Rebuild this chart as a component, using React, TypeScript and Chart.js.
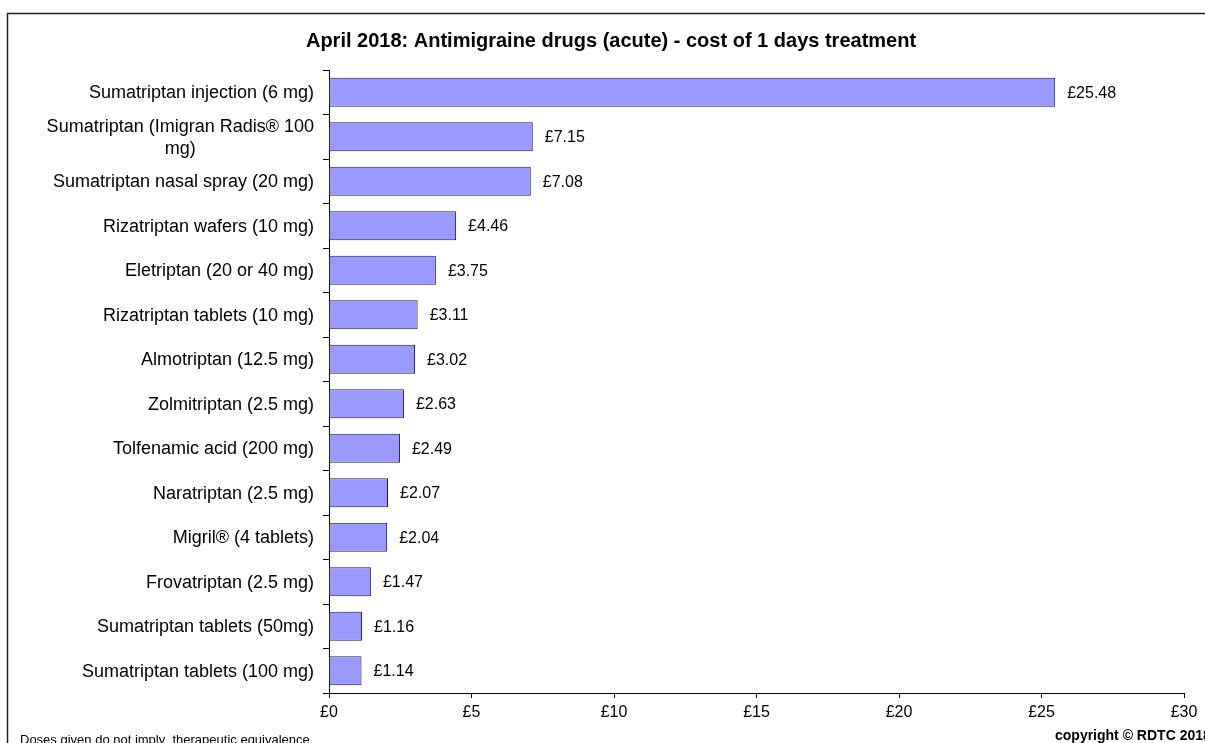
import React, { useEffect, useRef } from "react";
import { Chart, registerables } from "chart.js";

Chart.register(...registerables);

const categories: (string | string[])[] = [
  "Sumatriptan injection (6 mg)",
  ["Sumatriptan (Imigran Radis® 100", "mg)"],
  "Sumatriptan nasal spray (20 mg)",
  "Rizatriptan wafers (10 mg)",
  "Eletriptan (20 or 40 mg)",
  "Rizatriptan tablets (10 mg)",
  "Almotriptan (12.5 mg)",
  "Zolmitriptan (2.5 mg)",
  "Tolfenamic acid (200 mg)",
  "Naratriptan (2.5 mg)",
  "Migril® (4 tablets)",
  "Frovatriptan (2.5 mg)",
  "Sumatriptan tablets (50mg)",
  "Sumatriptan tablets (100 mg)",
];

const costs: number[] = [25.48, 7.15, 7.08, 4.46, 3.75, 3.11, 3.02, 2.63, 2.49, 2.07, 2.04, 1.47, 1.16, 1.14];

const xTicks: number[] = [0, 5, 10, 15, 20, 25, 30];

const titleText = "April 2018: Antimigraine drugs (acute) - cost of 1 days treatment";
const footLeft = "Doses given do not imply  therapeutic equivalence";
const footRight = "copyright © RDTC 2018";

const FONT = "Arial, 'Liberation Sans', sans-serif";

const decorPlugin = {
  id: "decor",
  beforeDraw(chart: any) {
    const ctx = chart.ctx;
    ctx.save();
    ctx.fillStyle = "#ffffff";
    ctx.fillRect(0, 0, chart.width, chart.height);
    ctx.strokeStyle = "#222222";
    ctx.lineWidth = 1.5;
    ctx.strokeRect(7.5, 13.5, chart.width + 20, chart.height + 20);
    ctx.restore();
  },
  afterDraw(chart: any) {
    const ctx = chart.ctx;
    ctx.save();
    ctx.fillStyle = "#000";
    ctx.font = `bold 20px ${FONT}`;
    ctx.textAlign = "center";
    ctx.textBaseline = "middle";
    ctx.fillText(titleText, 611, 41);

    // category labels (right-aligned block, lines centred within block)
    const yScale = chart.scales.y;
    ctx.font = `18px ${FONT}`;
    const right = 314;
    const lineH = 22;
    categories.forEach((lab, i) => {
      const lines = Array.isArray(lab) ? lab : [lab];
      const widths = lines.map((l) => ctx.measureText(l).width);
      const blockW = Math.max(...widths);
      const cx = right - blockW / 2;
      const yc = yScale.getPixelForValue(i);
      const y0 = yc - ((lines.length - 1) * lineH) / 2;
      ctx.textAlign = "center";
      lines.forEach((l, k) => ctx.fillText(l, cx, y0 + k * lineH + 1));
    });

    ctx.font = `16px ${FONT}`;
    ctx.textAlign = "left";
    const meta = chart.getDatasetMeta(0);
    meta.data.forEach((bar: any, i: number) => {
      ctx.fillText("£" + costs[i].toFixed(2), bar.x + 12, bar.y + 1);
    });

    ctx.font = `13px ${FONT}`;
    ctx.textBaseline = "alphabetic";
    ctx.fillText(footLeft, 20, 744);
    ctx.font = `bold 14px ${FONT}`;
    ctx.fillText(footRight, 1055, 740);
    ctx.restore();
  },
};

export default function App() {
  const ref = useRef<HTMLCanvasElement | null>(null);
  useEffect(() => {
    document.body.style.margin = "0";
    const chart = new Chart(ref.current as HTMLCanvasElement, {
      type: "bar",
      data: {
        labels: categories,
        datasets: [
          {
            data: costs,
            backgroundColor: "#9999FF",
            borderColor: "#1a1a40",
            borderWidth: 1,
            barPercentage: 0.65,
            categoryPercentage: 1,
          },
        ],
      },
      options: {
        indexAxis: "y",
        animation: false,
        responsive: false,
        maintainAspectRatio: false,
        layout: { padding: { top: 70, right: 21, bottom: 0, left: 0 } },
        plugins: {
          legend: { display: false },
          tooltip: { enabled: false },
          title: { display: false },
        },
        scales: {
          x: {
            type: "linear",
            min: 0,
            max: 30,
            afterBuildTicks(scale: any) {
              scale.ticks = xTicks.map((v) => ({ value: v }));
            },
            afterFit(scale: any) {
              scale.height = 50;
            },
            ticks: {
              color: "#000",
              font: { family: FONT, size: 16 },
              padding: 5,
              maxRotation: 0,
              callback: (v: any) => "£" + v,
            },
            grid: {
              display: true,
              drawOnChartArea: false,
              drawTicks: true,
              tickLength: 5,
              color: "#000",
            },
            border: { display: true, color: "#000", width: 1 },
          },
          y: {
            type: "category",
            afterFit(scale: any) {
              scale.width = 329;
            },
            ticks: {
              display: false,
              autoSkip: false,
            },
            grid: {
              display: true,
              offset: true,
              drawOnChartArea: false,
              drawTicks: true,
              tickLength: 6,
              color: "#000",
            },
            border: { display: true, color: "#000", width: 1 },
          },
        },
      },
      plugins: [decorPlugin],
    } as any);
    return () => chart.destroy();
  }, []);
  return (
    <div style={{ width: 1205, height: 743 }}>
      <canvas ref={ref} width={1205} height={743} style={{ display: "block" }} />
    </div>
  );
}
